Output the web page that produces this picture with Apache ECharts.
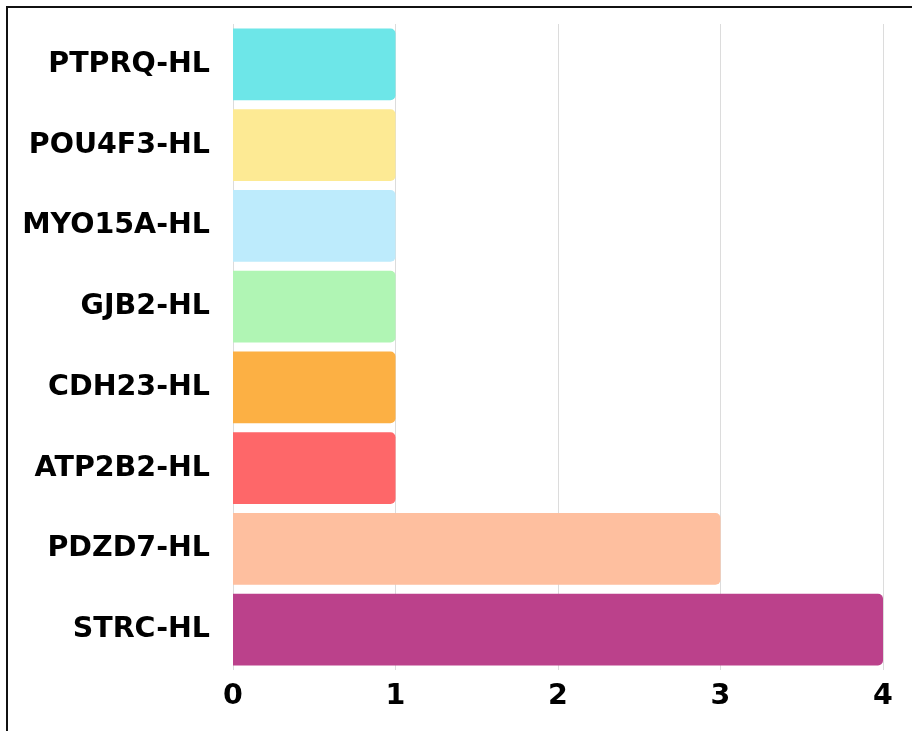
<!DOCTYPE html>
<html>
<head>
<meta charset="utf-8">
<script src="https://cdn.jsdelivr.net/npm/echarts@6/dist/echarts.min.js"></script>
<style>
  html, body { margin: 0; padding: 0; background: #fff; }
  #chart { width: 912px; height: 731px; }
</style>
</head>
<body>
<div id="chart"></div>
<script>
// Gene categories, bottom to top
const categories = ['STRC-HL', 'PDZD7-HL', 'ATP2B2-HL', 'CDH23-HL', 'GJB2-HL', 'MYO15A-HL', 'POU4F3-HL', 'PTPRQ-HL'];
const counts = [4, 3, 1, 1, 1, 1, 1, 1];
const barColors = ['#bb418b', '#febf9f', '#fe6769', '#fcb044', '#b0f5b4', '#bdebfc', '#fdea94', '#6de6e8'];
const xTicks = [0, 1, 2, 3, 4];

const chart = echarts.init(document.getElementById('chart'), null, { renderer: 'canvas' });

const labelFont = {
  color: '#000',
  fontFamily: 'DejaVu Sans',
  fontWeight: 'bold',
  fontSize: 28.5
};

chart.setOption({
  animation: false,
  backgroundColor: '#ffffff',
  grid: { left: 233, right: 29, top: 24, bottom: 61 },
  xAxis: {
    type: 'value',
    min: xTicks[0],
    max: xTicks[xTicks.length - 1],
    interval: 1,
    axisLine: { show: false },
    axisTick: { show: false },
    splitLine: { show: true, lineStyle: { color: '#dcdcdc', width: 1 } },
    axisLabel: Object.assign({ margin: 12 }, labelFont)
  },
  yAxis: {
    type: 'category',
    data: categories,
    axisLine: { show: false },
    axisTick: { show: false },
    axisLabel: Object.assign({ margin: 23 }, labelFont)
  },
  series: [{
    type: 'bar',
    data: counts.map((v, i) => ({ value: v, itemStyle: { color: barColors[i] } })),
    barCategoryGap: '11%',
    itemStyle: { borderRadius: [0, 5, 5, 0] }
  }],
  // frame edges along the left and top
  graphic: [
    { type: 'line', shape: { x1: 7, y1: 6, x2: 7, y2: 731 }, style: { stroke: '#111', lineWidth: 2 } },
    { type: 'line', shape: { x1: 6, y1: 7, x2: 912, y2: 7 }, style: { stroke: '#111', lineWidth: 2 } }
  ]
});
</script>
</body>
</html>
